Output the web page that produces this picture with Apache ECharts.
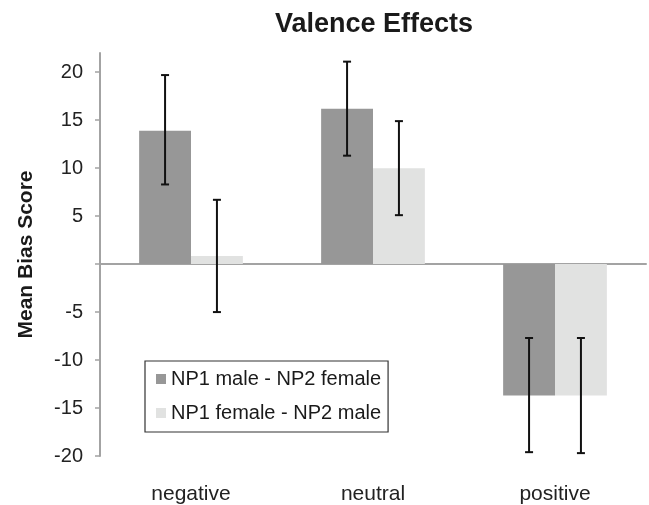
<!DOCTYPE html>
<html>
<head>
<meta charset="utf-8">
<script src="https://cdn.jsdelivr.net/npm/echarts@6/dist/echarts.min.js"></script>
<style>
html,body{margin:0;padding:0;background:#fff;}
#chart{width:649px;height:505px;}
</style>
</head>
<body>
<div id="chart"></div>
<script>
var categories = ['negative', 'neutral', 'positive'];
var seriesNames = ['NP1 male - NP2 female', 'NP1 female - NP2 male'];
var maleFemale = [13.9, 16.2, -13.7];
var femaleMale = [0.85, 10.0, -13.7];
var maleFemaleLow = [8.3, 11.3, -19.6];
var maleFemaleHigh = [19.7, 21.1, -7.7];
var femaleMaleLow = [-5.0, 5.1, -19.7];
var femaleMaleHigh = [6.7, 14.9, -7.7];
var yTickLabels = [-20, -15, -10, -5, 5, 10, 15, 20];
var yTicks = [-20, -15, -10, -5, 0, 5, 10, 15, 20];

var FONT = '"Liberation Sans", Arial, Helvetica, sans-serif';
var GAP = 0.43;

function errData(low, high) {
  return categories.map(function (c, i) { return [i, low[i], high[i]]; });
}
function errSeries(name, low, high, side) {
  return {
    type: 'custom',
    name: name + ' err',
    xAxisIndex: 0,
    yAxisIndex: 0,
    silent: true,
    z: 5,
    data: errData(low, high),
    renderItem: function (params, api) {
      var band = api.size([1, 0])[0];
      var barW = band * (1 - GAP) / 2;
      var idx = api.value(0);
      var top = api.coord([idx, api.value(2)]);
      var bot = api.coord([idx, api.value(1)]);
      var x = top[0] + side * barW / 2;
      var cap = 4;
      var style = { stroke: '#111', lineWidth: 2 };
      return {
        type: 'group',
        children: [
          { type: 'line', shape: { x1: x, y1: top[1], x2: x, y2: bot[1] }, style: style },
          { type: 'line', shape: { x1: x - cap, y1: top[1], x2: x + cap, y2: top[1] }, style: style },
          { type: 'line', shape: { x1: x - cap, y1: bot[1], x2: x + cap, y2: bot[1] }, style: style }
        ]
      };
    }
  };
}

var chart = echarts.init(document.getElementById('chart'), null, { renderer: 'canvas' });
chart.setOption({
  animation: false,
  backgroundColor: '#ffffff',
  title: {
    text: 'Valence Effects',
    left: 369,
    textAlign: 'center',
    top: 6,
    textStyle: { fontFamily: FONT, fontSize: 27, fontWeight: 'bold', color: '#1a1a1a' }
  },
  grid: { left: 100, right: 3, top: 53, bottom: 46.7, containLabel: false },
  legend: {
    orient: 'vertical',
    left: 145,
    top: 361,
    padding: [8, 7, 9, 11],
    itemGap: 14,
    itemWidth: 10,
    itemHeight: 10,
    borderColor: '#333',
    borderWidth: 1.2,
    icon: 'rect',
    data: seriesNames,
    textStyle: { fontFamily: FONT, fontSize: 20, color: '#1a1a1a', lineHeight: 20, padding: [0, 0, 0, 0] },
    selectedMode: false
  },
  xAxis: [
    {
      type: 'category',
      data: categories,
      position: 'bottom',
      axisLine: { show: false, onZero: false },
      axisTick: { show: false },
      axisLabel: { fontFamily: FONT, fontSize: 21, color: '#222', margin: 28 },
      splitLine: { show: false }
    },
    {
      type: 'category',
      data: categories,
      position: 'bottom',
      axisLine: { show: true, onZero: true, lineStyle: { color: '#a3a3a3', width: 2 } },
      axisTick: { show: false },
      axisLabel: { show: false },
      splitLine: { show: false }
    }
  ],
  yAxis: {
    type: 'value',
    min: -20,
    max: 22,
    interval: 5,
    axisLine: { show: true, lineStyle: { color: '#a3a3a3', width: 2 } },
    axisTick: { show: true, length: 5, lineStyle: { color: '#a3a3a3', width: 1.5 }, customValues: yTicks },
    axisLabel: { fontFamily: FONT, fontSize: 20, color: '#222', margin: 17, customValues: yTickLabels },
    splitLine: { show: false },
    name: 'Mean Bias Score',
    nameLocation: 'middle',
    nameGap: 63,
    nameRotate: 90,
    nameTextStyle: { fontFamily: FONT, fontSize: 21, fontWeight: 'bold', color: '#1a1a1a' }
  },
  series: [
    {
      type: 'bar',
      name: seriesNames[0],
      data: maleFemale,
      barGap: '0%',
      barCategoryGap: (GAP * 100) + '%',
      itemStyle: { color: '#979797' }
    },
    {
      type: 'bar',
      name: seriesNames[1],
      data: femaleMale,
      barGap: '0%',
      barCategoryGap: (GAP * 100) + '%',
      itemStyle: { color: '#e1e2e1' }
    },
    errSeries(seriesNames[0], maleFemaleLow, maleFemaleHigh, -1),
    errSeries(seriesNames[1], femaleMaleLow, femaleMaleHigh, 1)
  ]
});
</script>
</body>
</html>
